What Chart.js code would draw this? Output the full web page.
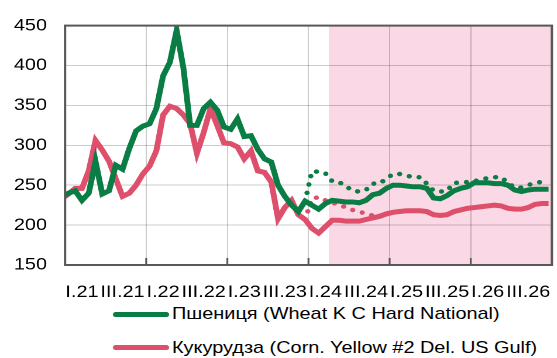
<!DOCTYPE html>
<html>
<head>
<meta charset="utf-8">
<script src="https://cdn.jsdelivr.net/npm/chart.js@4.4.0/dist/chart.umd.min.js"></script>
<style>
  body { margin: 0; background: #fff; font-family: "Liberation Sans", Arial, sans-serif; }
  #wrap { position: relative; width: 557px; height: 358px; overflow: hidden; }
  /* the chart is drawn narrow and widened, so the text comes out broad */
  #chart { position: absolute; left: 0; top: 0; transform: scaleX(1.17); transform-origin: 0 0; }
  .legend-row { position: absolute; left: 113px; height: 20px; display: flex; align-items: center;
                font-size: 17px; color: #000; white-space: nowrap; }
  .legend-row .swatch { width: 56px; height: 5px; border-radius: 3px; margin-right: 3px; }
  .legend-row .text { display: inline-block; transform: scaleX(1.17); transform-origin: 0 50%; }
</style>
</head>
<body>
<div id="wrap">
  <canvas id="chart" width="476" height="300"></canvas>
  <div id="legend"></div>
</div>
<script>
// half-year labels under the x axis
const periodLabels = ['I.21', 'III.21', 'I.22', 'III.22', 'I.23', 'III.23',
                      'I.24', 'III.24', 'I.25', 'III.25', 'I.26', 'III.26'];

// monthly prices, USD/t, from Dec 2020 to Dec 2026
const wheat = [
  235, 240, 243, 231, 240, 280, 239, 243, 275, 270, 296, 318, 324,
  327, 346, 387, 404, 444, 397, 325, 325, 346, 354, 344, 323,
  320, 333, 311, 312, 295, 283, 279, 250, 236, 225, 217, 230,
  225, 220, 227, 231, 230, 229, 229, 228, 231, 238, 240, 246,
  250, 250, 249, 248, 248, 246, 234, 233, 237, 243, 246, 248,
  253, 253, 253, 252, 252, 250, 244, 242, 244, 245, 245, 245
];
const corn = [
  233, 239, 246, 246, 268, 306, 294, 280, 258, 236, 240, 250, 264,
  274, 293, 338, 349, 346, 338, 327, 290, 316, 346, 325, 303,
  302, 298, 283, 293, 268, 266, 254, 208, 222, 231, 213, 207,
  196, 190, 198, 206, 206, 205, 205, 205, 207, 209, 211, 214,
  216, 217, 218, 218, 218, 217, 213, 212, 213, 217, 219, 221,
  222, 223, 224, 225, 224, 221, 220, 220, 222, 226, 227, 227
];

// previous forecast, starts at Dec 2023
const prevStart = 36;
const wheatPrev = [
  230, 267, 267, 265, 255, 254, 249, 243, 242, 244, 252, 252, 258,
  264, 264, 262, 260, 260, 252, 243, 242, 243, 253, 253, 254,
  255, 257, 259, 260, 260, 253, 247, 247, 250, 253, 254, 254
];
const cornPrev = [207, 233, 235, 231, 228, 226, 222, 219, 217, 214, 212, 211, 214];

// forecast zone begins in April 2024 (months since Jan 2021)
const forecastFrom = 39;

const GREEN = '#0a7d45';
const RED = '#dd4f6a';
const GRID = 'rgba(0,0,0,0.2)';
const FRAME = '#585858';
const tickFont = { family: '"Liberation Sans", Arial, sans-serif', size: 17 };

// x is months since Jan 2021, each monthly value sits mid-month
const toPoints = (arr, start) => arr.map((v, i) => ({ x: start + i - 0.5, y: v }));

const yearLines = [0, 12, 24, 36, 48, 60, 72];
const labelPos = periodLabels.map((_, i) => i * 6 + 2.5);

const forecastZone = {
  id: 'forecastZone',
  beforeDraw(chart) {
    const { ctx, chartArea: a } = chart;
    const x0 = chart.scales.x.getPixelForValue(forecastFrom);
    ctx.save();
    ctx.fillStyle = '#fad8e5';
    ctx.fillRect(x0, a.top, a.right - x0, a.bottom - a.top);
    ctx.restore();
  },
  afterDraw(chart) {
    const { ctx, chartArea: a } = chart;
    const x = chart.scales.x;
    ctx.save();
    ctx.strokeStyle = FRAME;
    ctx.lineWidth = 2;
    ctx.strokeRect(a.left, a.top, a.right - a.left, a.bottom - a.top);
    // short inner ticks at year boundaries
    ctx.beginPath();
    yearLines.slice(1, -1).forEach(v => {
      const px = x.getPixelForValue(v);
      ctx.moveTo(px, a.bottom);
      ctx.lineTo(px, a.bottom - 7);
    });
    ctx.lineWidth = 1.6;
    ctx.stroke();
    ctx.restore();
  }
};

// labels hang over the plot edges, keep the axis from shrinking the plot
const noSidePadding = s => { s.paddingLeft = 0; s.paddingRight = 0; };

const lineStyle = { pointRadius: 0, borderWidth: 5, tension: 0, clip: 0 };

const chart = new Chart(document.getElementById('chart'), {
  type: 'line',
  data: {
    datasets: [
      { label: 'Пшениця (Wheat K C Hard National)', data: toPoints(wheat, 0), borderColor: GREEN, ...lineStyle },
      { label: 'Кукурудза (Corn. Yellow #2 Del. US Gulf)', data: toPoints(corn, 0), borderColor: RED, ...lineStyle },
      { label: 'wheat prev', data: toPoints(wheatPrev, prevStart), borderColor: GREEN, borderDash: [0, 8.5],
        borderCapStyle: 'round', ...lineStyle, borderWidth: 4.5 },
      { label: 'corn prev', data: toPoints(cornPrev, prevStart), borderColor: RED, borderDash: [0, 8.5],
        borderCapStyle: 'round', ...lineStyle, borderWidth: 4.5 }
    ]
  },
  options: {
    responsive: false,
    devicePixelRatio: 2,
    animation: false,
    layout: { padding: { top: 20, right: 4.3, left: 0, bottom: 0 } },
    plugins: { legend: { display: false }, tooltip: { enabled: false } },
    scales: {
      x: {
        type: 'linear', min: 0, max: 72, position: 'bottom',
        afterBuildTicks: s => { s.ticks = yearLines.map(v => ({ value: v })); },
        afterFit: s => { s.height = 0; noSidePadding(s); },
        grid: { color: GRID, drawTicks: false },
        border: { display: false },
        ticks: { display: false }
      },
      x2: {
        type: 'linear', min: 0, max: 72, position: 'bottom',
        afterBuildTicks: s => { s.ticks = labelPos.map(v => ({ value: v })); },
        afterFit: s => { s.height = 35; noSidePadding(s); },
        grid: { display: false, drawTicks: false },
        border: { display: false },
        ticks: { autoSkip: false, maxRotation: 0, padding: 17, color: '#000', font: tickFont,
                 callback: (v, i) => periodLabels[i] }
      },
      y: {
        min: 150, max: 450,
        afterFit: s => { s.width = 55.6; },
        grid: { color: GRID, drawTicks: false },
        border: { display: false },
        ticks: { stepSize: 50, padding: 15.4, color: '#000', font: tickFont }
      }
    }
  },
  plugins: [forecastZone]
});

// legend under the chart, one series per row
const legend = document.getElementById('legend');
chart.data.datasets.slice(0, 2).forEach((ds, i) => {
  const row = document.createElement('div');
  row.className = 'legend-row';
  row.style.top = (304 + i * 33.5) + 'px';
  row.innerHTML = `<span class="swatch" style="background:${ds.borderColor}"></span><span class="text">${ds.label}</span>`;
  legend.appendChild(row);
});
</script>
</body>
</html>
